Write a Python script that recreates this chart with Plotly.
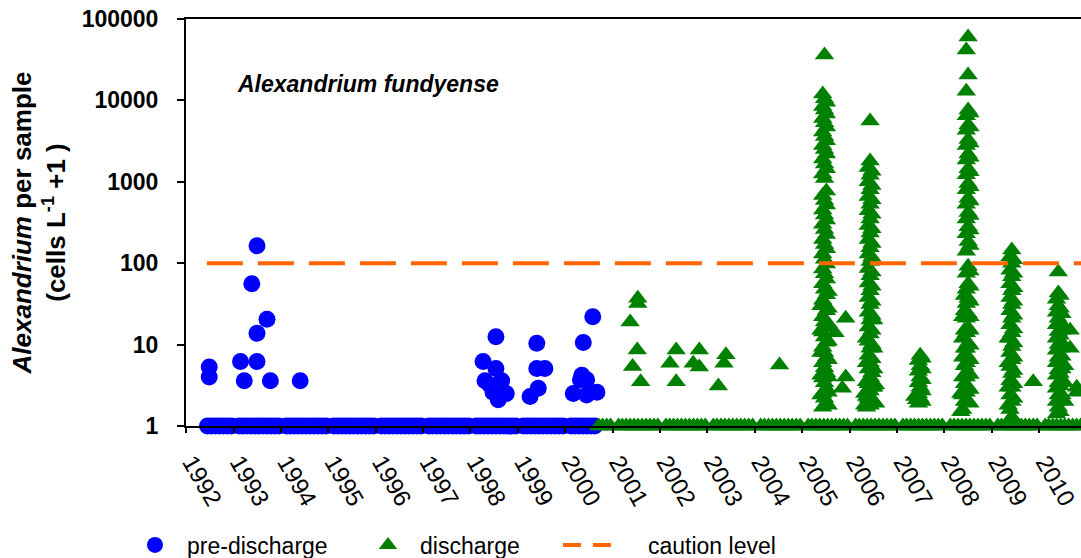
import plotly.graph_objects as go

# ---------------- data ----------------
y_tick_vals = [1, 10, 100, 1000, 10000, 100000]
y_tick_text = ["1", "10", "100", "1000", "10000", "100000"]
x_range = ["1992-01-01", "2010-11-18"]

caution_level = 100
caution_span = ["1992-06-10", "2010-12-31"]

# months with samples at (cells+1) = 1, i.e. no cells found
pre_nd_months = {
    1992: [6, 7, 8, 9, 10, 11, 12],
    1993: [2, 3, 4, 5, 6, 7, 8, 9, 10, 11, 12],
    1994: [2, 3, 4, 5, 6, 7, 8, 9, 10, 11, 12],
    1995: [2, 3, 4, 5, 6, 7, 8, 9, 10, 11, 12],
    1996: [2, 3, 4, 5, 6, 7, 8, 9, 10, 11, 12],
    1997: [2, 3, 4, 5, 6, 7, 8, 9, 10, 11, 12],
    1998: [2, 3, 4, 5, 6, 7, 8, 9, 10, 11, 12],
    1999: [2, 3, 4, 5, 6, 7, 8, 9, 10, 11, 12],
    2000: [2, 3, 4, 5, 6, 7, 8],
}
dis_nd_months = {
    2000: [9, 10, 11, 12],
    2001: [2, 3, 4, 5, 6, 7, 8, 9, 10, 11, 12],
    2002: [2, 3, 4, 5, 6, 7, 8, 9, 10, 11, 12],
    2003: [2, 3, 4, 5, 6, 7, 8, 9, 10, 11, 12],
    2004: [2, 3, 4, 5, 6, 7, 8, 9, 10, 11, 12],
    2005: [2, 3, 4, 5, 6, 7, 8, 9, 10, 11, 12],
    2006: [2, 3, 4, 5, 6, 7, 8, 9, 10, 11, 12],
    2007: [2, 3, 4, 5, 6, 7, 8, 9, 10, 11, 12],
    2008: [2, 3, 4, 5, 6, 7, 8, 9, 10, 11, 12],
    2009: [2, 3, 4, 5, 6, 7, 8, 9, 10, 11, 12],
    2010: [2, 3, 4, 5, 6, 7, 8, 9, 10, 11],
}

# survey date -> values (cells L-1 + 1) above 1
pre_detect = {
    "1992-06-28": [5.3, 4.0],
    "1993-02-24": [6.2],
    "1993-03-25": [3.6],
    "1993-05-22": [56],
    "1993-07-01": [164, 13.8, 6.2],
    "1993-09-16": [20.5],
    "1993-10-12": [3.6],
    "1994-05-30": [3.6],
    "1998-04-08": [6.2],
    "1998-04-23": [3.6],
    "1998-05-30": [3.2],
    "1998-06-24": [2.6],
    "1998-07-16": [12.5, 5.1],
    "1998-08-03": [2.1],
    "1998-08-29": [3.6],
    "1998-10-04": [2.5],
    "1999-04-05": [2.3],
    "1999-05-27": [10.4, 5.1],
    "1999-06-07": [2.9],
    "1999-07-28": [5.1],
    "2000-03-03": [2.5],
    "2000-04-27": [3.7],
    "2000-05-08": [4.2],
    "2000-05-19": [10.6],
    "2000-06-14": [2.4, 3.7],
    "2000-07-31": [22],
    "2000-09-01": [2.6],
}

dis_detect = {
    "2001-05-15": [19],
    "2001-06-03": [5.4],
    "2001-07-09": [8.6],
    "2001-07-13": [37, 32],
    "2001-08-04": [3.5],
    "2002-03-18": [5.9],
    "2002-05-05": [8.6, 3.5],
    "2002-09-13": [5.9],
    "2002-10-30": [8.6, 5.3],
    "2003-03-26": [3.1],
    "2003-05-08": [5.9],
    "2003-05-23": [7.5],
    "2004-07-09": [5.6],
    "2005-05-24": [30, 15, 8, 4.2, 2.4],
    "2005-06-07": [12000, 8400, 6000, 4100, 2800, 1900, 1250, 680, 450, 300, 195, 130,
                   85, 56, 35, 22, 14.3, 9.3, 6, 3.9, 2.5, 1.7],
    "2005-06-21": [36000, 10500, 7600, 5300, 3600, 2500, 1650, 1100, 590, 390, 260, 170,
                   112, 74, 48, 30, 19, 12.4, 8, 5.2, 3.4, 2.2],
    "2005-07-05": [9500, 6800, 4700, 3200, 2200, 1450, 770, 520, 340, 225, 150, 98,
                   64, 41, 26, 16.5, 10.7, 7, 4.5, 2.9, 1.9],
    "2005-07-19": [45, 28, 18, 11, 6.5, 4, 2.6, 1.8],
    "2005-09-10": [14],
    "2005-11-05": [2.9],
    "2005-12-01": [21, 4],
    "2006-04-26": [2.5, 1.8],
    "2006-05-10": [12, 6, 3.5, 2.3, 1.7],
    "2006-05-24": [1500, 1000, 660, 440, 290, 195, 130, 86, 57, 38, 25, 16.5, 11, 7.4,
                   5, 3.3, 2.2],
    "2006-06-07": [5600, 1800, 1200, 800, 530, 350, 235, 155, 105, 70, 46, 31, 20, 13.5,
                   9, 6, 4, 2.7, 1.8],
    "2006-06-21": [1350, 900, 600, 400, 265, 175, 118, 78, 52, 34, 23, 15, 10, 6.7,
                   4.5, 3, 2],
    "2006-07-05": [20, 9, 5, 3, 2],
    "2006-07-19": [3.2, 1.9],
    "2007-05-17": [2.3],
    "2007-05-31": [2.4, 2.1],
    "2007-06-14": [6.4, 4.7, 3.4, 2.5, 1.9],
    "2007-06-28": [7.4, 5.5, 4, 3, 2.2],
    "2007-07-12": [6.8, 5, 3.7, 2.7, 2],
    "2008-05-06": [2.5, 1.5],
    "2008-05-20": [22, 12, 7, 4, 2.4, 1.6],
    "2008-06-03": [40, 26, 15, 9, 5.5, 3.3, 2],
    "2008-06-17": [41500, 13000, 6500, 4300, 2800, 1850, 1220, 800, 530, 350, 230, 140,
                   75, 48, 32, 21, 14, 9, 6, 4, 2.6],
    "2008-07-01": [60000, 20500, 7600, 5000, 3300, 2200, 1450, 950, 630, 420, 280, 185,
                   92, 56, 37, 24, 16, 10.5, 7, 4.6, 3, 2],
    "2008-07-15": [7000, 4700, 3000, 2000, 1330, 870, 580, 385, 255, 165, 80, 52, 34,
                   22, 15, 9.8, 6.5, 4.3, 2.8, 1.9],
    "2009-05-06": [12, 6, 3, 1.8],
    "2009-05-20": [120, 82, 56, 38, 26, 17.5, 12, 8, 5.4, 3.6, 2.4, 1.6],
    "2009-06-03": [145, 100, 68, 46, 31, 21, 14, 9.5, 6.5, 4.4, 3, 2, 1.3],
    "2009-06-17": [110, 75, 50, 34, 23, 15.5, 10.5, 7, 4.8, 3.3, 2.2],
    "2009-11-15": [3.5],
    "2010-05-13": [36, 25, 17.5, 12, 8.5, 6, 4.2, 2.9, 2, 1.4],
    "2010-05-27": [78, 43, 30, 21, 14.5, 10, 7, 4.9, 3.4, 2.4, 1.7],
    "2010-06-10": [40, 28, 19, 13, 9, 6.3, 4.4, 3.1, 2.1, 1.5],
    "2010-06-24": [24, 15, 10.5, 7.2, 5, 3.5, 2.4],
    "2010-07-15": [16, 9.5, 5.5, 3.4, 2],
    "2010-08-26": [15, 9],
    "2010-10-16": [3.0, 2.6],
}


def expand(nd_months, detect):
    xs, ys = [], []
    for yr, months in nd_months.items():
        for m in months:
            xs.append(f"{yr}-{m:02d}-15")
            ys.append(1)
    for d, vals in detect.items():
        for v in vals:
            xs.append(d)
            ys.append(v)
    return xs, ys


pre_x, pre_y = expand(pre_nd_months, pre_detect)
dis_x, dis_y = expand(dis_nd_months, dis_detect)

FONT = "Liberation Sans, Arial, sans-serif"
BLUE = "#0000FF"
GREEN = "#008000"
ORANGE = "#FF6600"

fig = go.Figure()
fig.add_trace(go.Scatter(
    x=pre_x, y=pre_y, mode="markers", name="pre-discharge",
    marker=dict(symbol="circle", size=17, color=BLUE, line=dict(width=0)),
    cliponaxis=False, legend="legend"))
fig.add_trace(go.Scatter(
    x=dis_x, y=dis_y, mode="markers", name="discharge",
    marker=dict(symbol="triangle-up", size=17, color=GREEN, line=dict(width=0)),
    cliponaxis=False, legend="legend"))
fig.add_trace(go.Scatter(
    x=caution_span, y=[caution_level, caution_level], mode="lines",
    name="caution level", showlegend=False,
    line=dict(color=ORANGE, width=4, dash="36px,15px")))
# legend entry for the caution line (legend glyph drawn shorter, as in the original)
fig.add_trace(go.Scatter(
    x=[caution_span[0]], y=[caution_level], mode="lines", name="caution level",
    line=dict(color=ORANGE, width=4, dash="18px,12px,18px,32px"),
    legend="legend2", hoverinfo="skip"))

fig.update_layout(
    width=1081, height=558,
    margin=dict(l=186, r=0, t=19, b=132, autoexpand=False),
    plot_bgcolor="white", paper_bgcolor="white",
    font=dict(family=FONT, color="black"),
    showlegend=True,
    legend=dict(orientation="h", x=-0.0704, y=-0.2924, xanchor="left", yanchor="middle",
                xref="paper", yref="paper",
                itemwidth=54, entrywidth=164, entrywidthmode="pixels",
                font=dict(size=23, family=FONT, color="black"),
                bgcolor="rgba(0,0,0,0)", traceorder="normal"),
    legend2=dict(orientation="h", x=0.4156, y=-0.2924, xanchor="left", yanchor="middle",
                 xref="paper", yref="paper", itemwidth=80,
                 font=dict(size=23, family=FONT, color="black"),
                 bgcolor="rgba(0,0,0,0)"),
    annotations=[dict(
        text="<b><i>Alexandrium fundyense</i></b>", xref="paper", yref="paper",
        x=0.0547, y=0.84, xanchor="left", yanchor="middle", showarrow=False,
        font=dict(size=23, family=FONT, color="black"))],
)

fig.update_xaxes(
    type="date", range=x_range, tick0="1992-01-01", dtick="M12", tickformat="%Y",
    tickangle=60, tickfont=dict(size=24, family=FONT, color="black"),
    ticks="outside", ticklen=5, tickwidth=2, tickcolor="black",
    showline=True, linecolor="black", linewidth=2, mirror=True,
    showgrid=False, zeroline=False, ticklabelstandoff=6, ticklabelshift=6,
    automargin=False)

fig.update_yaxes(
    type="log", range=[0, 5], tickvals=y_tick_vals, ticktext=y_tick_text,
    tickfont=dict(size=23, family=FONT, color="black", weight="bold"),
    ticks="outside", ticklen=7, tickwidth=2, tickcolor="black",
    showline=True, linecolor="black", linewidth=2,
    showgrid=False, zeroline=False, ticklabelstandoff=14, automargin=False,
    title=dict(text="<i>Alexandrium</i> per sample<br>(cells L<sup>-1</sup> +1 )",
               font=dict(size=26, family=FONT, color="black", weight="bold"),
               standoff=9))

fig.write_html("out.html")
